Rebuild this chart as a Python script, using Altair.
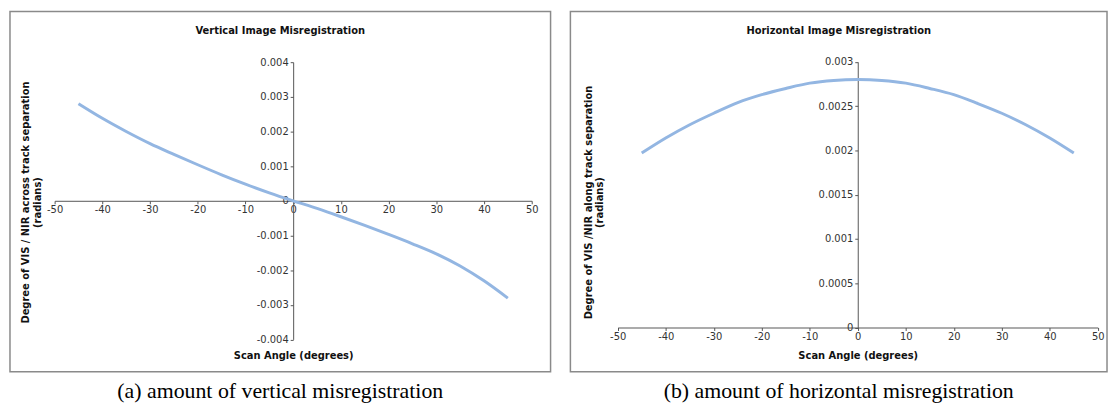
import altair as alt
import pandas as pd

# ---- data ----
angles = [-45, -40, -35, -30, -25, -20, -15, -10, -5, 0, 5, 10, 15, 20, 25, 30, 35, 40, 45]
vertical_sep = [0.00280, 0.00238, 0.00200, 0.00165, 0.00134, 0.00104, 0.00075, 0.00048, 0.00023, 0.0,
                -0.00022, -0.00046, -0.00071, -0.00097, -0.00124, -0.00153, -0.00188, -0.00231, -0.00281]
horizontal_sep = [0.00197, 0.00214, 0.00229, 0.00242, 0.00254, 0.00263, 0.00270, 0.00276, 0.00279, 0.00280,
                  0.00279, 0.00276, 0.00270, 0.00263, 0.00253, 0.00242, 0.00229, 0.00214, 0.00197]

x_ticks = [-50, -40, -30, -20, -10, 0, 10, 20, 30, 40, 50]
v_ticks = [-0.004, -0.003, -0.002, -0.001, 0, 0.001, 0.002, 0.003, 0.004]
h_ticks = [0, 0.0005, 0.001, 0.0015, 0.002, 0.0025, 0.003]

headings = ["Vertical Image Misregistration", "Horizontal Image Misregistration"]
y_titles = [["Degree of VIS / NIR across track separation", "(radians)"],
            ["Degree of VIS /NIR along track separation", "(radians)"]]
x_title = "Scan Angle (degrees)"
captions = ["(a) amount of vertical misregistration", "(b) amount of horizontal misregistration"]

FONT = "DejaVu Sans"
LINE = "#93B6E2"


def panel(yvals, heading, ytitle, caption, width, height, xrange, yrange, ydomain, yticks, ytitle_x):
    df = pd.DataFrame({"angle": angles, "sep": yvals})
    zero_x = xrange[0] + (0 - (-50)) / 100 * (xrange[1] - xrange[0])
    zero_y = yrange[0] + (0 - ydomain[0]) / (ydomain[1] - ydomain[0]) * (yrange[1] - yrange[0])

    xaxis = alt.Axis(orient="bottom", offset=zero_y - height, values=x_ticks,
                     labelExpr="'' + datum.value", title=x_title,
                     titleY=347 - zero_y, titleBaseline="middle",
                     labelFlush=False, labelOverlap=False, labelPadding=1)
    yaxis = alt.Axis(orient="left", offset=-zero_x, values=yticks,
                     labelExpr="'' + datum.value", title=ytitle,
                     titleAngle=270, titleX=ytitle_x - zero_x, titleY=192,
                     titleBaseline="middle", titleAlign="center", titleLineHeight=11.5,
                     labelFlush=False, labelOverlap=False, labelPadding=2)

    line = alt.Chart(df).mark_line(color=LINE, strokeWidth=3, interpolate="monotone").encode(
        x=alt.X("angle:Q", scale=alt.Scale(domain=[-50, 50], range=xrange, nice=False, zero=False), axis=xaxis),
        y=alt.Y("sep:Q", scale=alt.Scale(domain=ydomain, range=yrange, nice=False, zero=False), axis=yaxis),
    )
    head = alt.Chart(pd.DataFrame({"t": [heading]})).mark_text(
        font=FONT, fontSize=10, fontWeight="bold", color="#111"
    ).encode(x=alt.value(width / 2), y=alt.value(20), text="t:N")

    return alt.layer(line, head).properties(
        width=width, height=height,
        title=alt.TitleParams(caption, orient="bottom", font="Liberation Serif", fontSize=22,
                              fontWeight="normal", color="#000", offset=10, anchor="middle", frame="group"),
    )


left = panel(vertical_sep, headings[0], y_titles[0], captions[0], 545, 363,
             [45, 526], [330.5, 51], [-0.004, 0.004], v_ticks, 16)
right = panel(horizontal_sep, headings[1], y_titles[1], captions[1], 541, 363,
              [47.7, 531.7], [318.5, 50.7], [0, 0.003], h_ticks, 18)

chart = alt.hconcat(left, right, spacing=18).properties(
    padding={"left": 1, "top": 1, "right": 1, "bottom": 1}
).configure_view(
    stroke="#8a8a8a", strokeWidth=1.5
).configure_axis(
    grid=False, labelFont=FONT, labelFontSize=10, labelColor="#333",
    titleFont=FONT, titleFontSize=10, titleFontWeight="bold", titleColor="#111",
    domainColor="#555", tickColor="#555", domainWidth=1, tickWidth=1, tickSize=3,
)

chart.save("out.html", embed_options={"renderer": "svg", "actions": False})
